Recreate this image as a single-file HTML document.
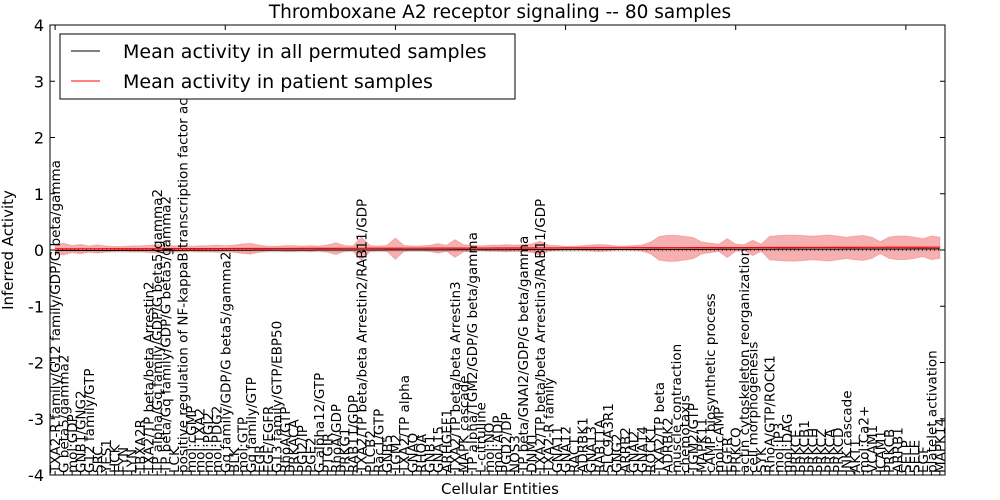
<!DOCTYPE html>
<html><head><meta charset="utf-8"><style>
body{margin:0;background:#fff;}
svg{display:block;font-family:"DejaVu Sans","Liberation Sans",sans-serif;}
</style></head><body>
<svg id="chart" width="1000" height="500"></svg>
<script>
const labels=["TXA2-R family/G12 family/GDP/G beta/gamma","G beta5/gamma2","mol:GDP","GNB1/GNG2","G12 family/GTP","SRC","YES1","HCK","FYN","LYN","TBXA2R","TXA2/TP beta/beta Arrestin2","TP alpha/Gq family/GDP/G beta5/gamma2","TP beta/Gq family/GDP/G beta5/gamma2","LCK","positive regulation of NF-kappaB transcription factor activity","mol:cGMP","mol:TXA2","mol:PGI2","mol:PDG2","Gq family/GDP/G beta5/gamma2","BLK","mol:GTP","Gq family/GTP","EGR","EGF/EGFR","G13 family/GTP/EBP50","RhoA/GTP","PRKACA","PGI2/IP","PGE2","G alpha12/GTP","PTGIR","RhoA/GDP","PRKG1","RAB11/GDP","TXA2/TP beta/beta Arrestin2/RAB11/GDP","PLCB2","Rac1/GTP","GNB5","TGM2","TXA2/TP alpha","GNAQ","RHOA","GNB1","GNA15","ARHGEF1","TXA2/TP beta/beta Arrestin3","MAPK cascade","TP alpha/TGM2/GDP/G beta/gamma","L-citrulline","mol:NO","mol:ADP","PGD2/DP","NOS3","TP beta/GNAI2/GDP/G beta/gamma","DNM1","TXA2/TP beta/beta Arrestin3/RAB11/GDP","TXA2-R family","GNA11","GNA12","RAC1","ADRBK1","GNA13","RAB11A","SLC9A3R1","GNG2","ARRB2","GNAI2","GNA14","ROCK1","TXA2/TP beta","ADRBK2","muscle contraction","chemotaxis","TGM2/GTP","MAPK11","cAMP biosynthetic process","mol:cAMP","EGFR","PRKCQ","actin cytoskeleton reorganization","cell morphogenesis","SYK","RhoA/GTP/ROCK1","mol:IP3","mol:DAG","PRKCE","PRKCB1","PRKCH","PRKCZ","PRKCA","PRKCD","JNK cascade","AKT1","mol:Ca2+","VCAM1","ICAM1","PRKCB","ARRB1","SELP","SELE","EGF","platelet activation","MAPK14"];
const patientHalf=[.08,.1,.06,.08,.05,.07,.05,.04,.04,.05,
.05,.06,.07,.06,.05,.05,.04,.05,.05,.06,
.05,.06,.08,.09,.06,.04,.04,.05,.05,.04,
.05,.04,.06,.1,.05,.04,.2,.05,.04,.05,
.18,.05,.04,.04,.05,.08,.05,.15,.06,.05,
.04,.05,.05,.06,.05,.06,.07,.12,.05,.04,
.03,.03,.04,.05,.06,.05,.03,.03,.04,.05,
.1,.2,.22,.22,.2,.18,.1,.08,.06,.16,
.06,.05,.13,.06,.2,.21,.22,.22,.21,.2,
.21,.22,.2,.18,.2,.21,.18,.1,.18,.2,
.2,.18,.15,.2,.18];
const yTicks=[-4,-3,-2,-1,0,1,2,3,4];
const xTicks=[0,20,40,60,80,100];
const permHalf=0.04;
const X0=50,X1=945,Y0=25,Y1=475;
const N=labels.length;
const XMIN=-0.6,XMAX=N-0.4;
const sx=i=>X0+(X1-X0)*(i-XMIN)/(XMAX-XMIN);
const sy=v=>Y1-(Y1-Y0)*(v+4)/8;
const patientMean=labels.map((_,i)=>0.02+0.03*(i/(N-1)));
const permLine=labels.map((_,i)=>-0.01+0.03*(i/(N-1)));
const svg=document.getElementById('chart');
const NS='http://www.w3.org/2000/svg';
function mk(t,a,p){const e=document.createElementNS(NS,t);for(const k in a)e.setAttribute(k,a[k]);(p||svg).appendChild(e);return e;}
let up=labels.map((_,i)=>sx(i)+','+sy(permLine[i]+permHalf)).join(' ');
let dn=labels.map((_,i)=>sx(i)+','+sy(permLine[i]-permHalf)).reverse().join(' ');
let g=mk('polygon',{points:up+' '+dn,fill:'#cccccc','fill-opacity':0.6,stroke:'none'});


up=labels.map((_,i)=>sx(i)+','+sy(patientMean[i]+patientHalf[i])).join(' ');
dn=labels.map((_,i)=>sx(i)+','+sy(patientMean[i]-patientHalf[i]*1.1)).reverse().join(' ');
let r=mk('polygon',{points:up+' '+dn,fill:'#f07070','fill-opacity':0.55,stroke:'#f07070','stroke-opacity':0.4});


let z=mk('line',{x1:X0,x2:X1,y1:sy(0),y2:sy(0),stroke:'#000','stroke-dasharray':'1,3','stroke-width':1});


let pl=mk('polyline',{points:labels.map((_,i)=>sx(i)+','+sy(permLine[i])).join(' '),fill:'none',stroke:'#000','stroke-width':1});


let rl=mk('polyline',{points:labels.map((_,i)=>sx(i)+','+sy(patientMean[i])).join(' '),fill:'none',stroke:'#ff0000','stroke-width':1.2});


let f=mk('rect',{x:X0,y:Y0,width:X1-X0,height:Y1-Y0,fill:'none',stroke:'#000','stroke-width':1});


yTicks.forEach(v=>{
  mk('line',{x1:X0,x2:X0+5,y1:sy(v),y2:sy(v),stroke:'#000'});
  mk('line',{x1:X1-5,x2:X1,y1:sy(v),y2:sy(v),stroke:'#000'});
  const t=mk('text',{x:X0-6,y:sy(v)+6,'text-anchor':'end','font-size':16});
  t.textContent=v;
  
  
});
xTicks.forEach(v=>{
  mk('line',{x1:sx(v),x2:sx(v),y1:Y0,y2:Y0+5,stroke:'#000'});
});
labels.forEach((s,i)=>{
  mk('line',{x1:sx(i),x2:sx(i),y1:Y1,y2:Y1-4,stroke:'#000'});
  const t=mk('text',{x:0,y:0,'font-size':13.5,'text-anchor':'start',transform:`translate(${sx(i)+5},${Y1-2}) rotate(-90)`});
  t.textContent=s;
  
  
});
let tt=mk('text',{x:500,y:18,'text-anchor':'middle','font-size':18.5});
tt.textContent='Thromboxane A2 receptor signaling -- 80 samples';


let xt=mk('text',{x:500,y:494,'text-anchor':'middle','font-size':15});
xt.textContent='Cellular Entities';


let yt=mk('text',{x:0,y:0,'text-anchor':'middle','font-size':15,transform:'translate(13,250) rotate(-90)'});
yt.textContent='Inferred Activity';


const lg=mk('g',{});


mk('rect',{x:60,y:34,width:455,height:65,fill:'#fff',stroke:'#000'},lg);
const entries=[['Mean activity in all permuted samples','#000',51],['Mean activity in patient samples','#ff0000',81]];
entries.forEach(e=>{
  const ge=mk('g',{},lg);
  
  
  mk('line',{x1:71,x2:100,y1:e[2],y2:e[2],stroke:e[1],'stroke-width':1},ge);
  const t=mk('text',{x:123,y:e[2]+7,'font-size':19},ge);
  t.textContent=e[0];
});
</script>
</body></html>
